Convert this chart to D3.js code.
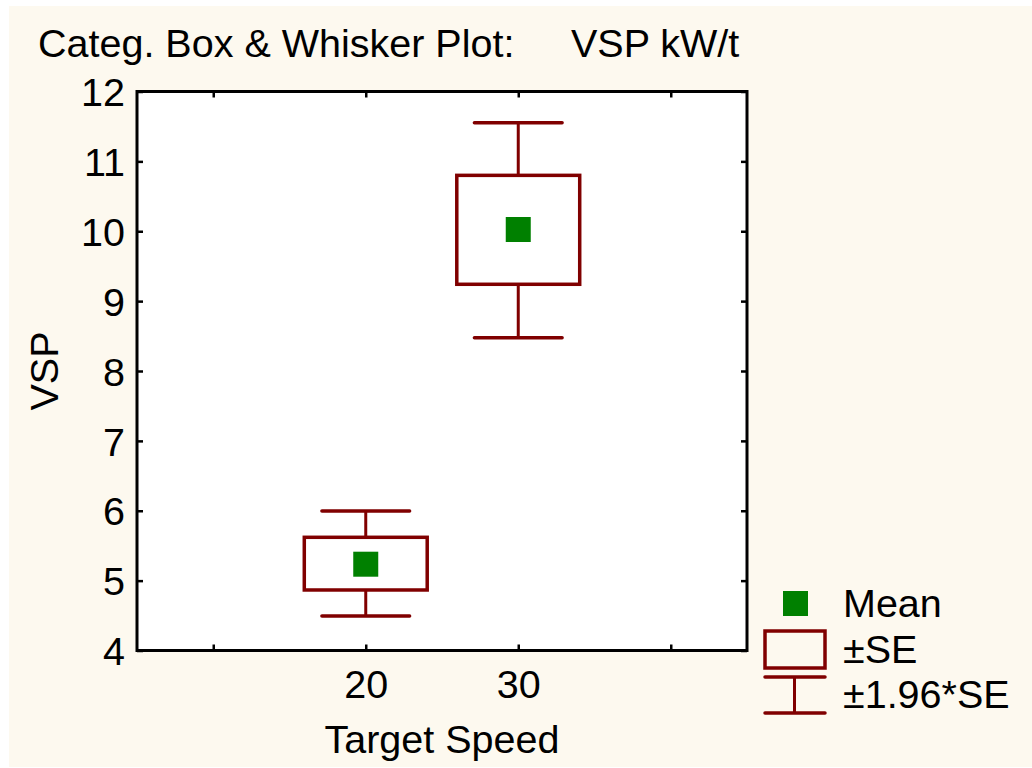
<!DOCTYPE html>
<html><head><meta charset="utf-8">
<script src="https://cdn.jsdelivr.net/npm/d3@7"></script>
<style>
html,body{margin:0;padding:0;background:#ffffff;}
svg{display:block;}
text{font-family:"Liberation Sans",Arial,sans-serif;fill:#000;}
</style></head>
<body>
<svg id="chart" width="1032" height="768"></svg>
<script>
// ---- data ----
const categories = ["20", "30"];
const means   = [5.235, 10.025];
const seLow   = [4.866, 9.241];
const seHigh  = [5.620, 10.800];
const ciLow   = [4.494, 8.477];
const ciHigh  = [5.996, 11.553];
const yTicks  = [4, 5, 6, 7, 8, 9, 10, 11, 12];
const legendLabels = ["Mean", "\u00B1SE", "\u00B11.96*SE"];
const titleLeft = "Categ. Box & Whisker Plot:";
const titleRight = "VSP kW/t";
const xTitle = "Target Speed";
const yTitle = "VSP";

// ---- layout ----
const FS = "39.5px";
const svg = d3.select("#chart");
const L = 137, R = 747, T = 91.5, B = 650.5;
const boxColor = "#800000", meanColor = "#008000", bg = "#FDF9EF";

svg.append("rect").attr("x", 9).attr("y", 6).attr("width", 1023).attr("height", 761).attr("fill", bg);
svg.append("rect").attr("x", L).attr("y", T).attr("width", R - L).attr("height", B - T).attr("fill", "#fff");

const y = d3.scaleLinear().domain([4, 12]).range([B, T]);
const x = d3.scaleLinear().domain([0, 4]).range([L, R]);
const slotTicks = [0.5, 1.5, 2.5, 3.5];
const catPos = (i) => x(i + 1.5);
const bandW = x(1) - x(0);

// axes with inward ticks
const tickLen = 6;
const yAxisL = d3.axisLeft(y).tickValues(yTicks).tickSize(-tickLen).tickPadding(18).tickFormat(d3.format("d"));
const gL = svg.append("g").attr("transform", `translate(${L},0)`).call(yAxisL);
const yAxisR = d3.axisRight(y).tickValues(yTicks).tickSize(-tickLen).tickFormat("");
const gR = svg.append("g").attr("transform", `translate(${R},0)`).call(yAxisR);
const xAxisB = d3.axisBottom(x).tickValues(slotTicks).tickSize(-tickLen).tickPadding(22)
  .tickFormat(d => { const i = Math.round(d - 1.5); return categories[i] !== undefined ? categories[i] : ""; });
const gB = svg.append("g").attr("transform", `translate(0,${B})`).call(xAxisB);
const xAxisT = d3.axisTop(x).tickValues(slotTicks).tickSize(-tickLen).tickFormat("");
const gT = svg.append("g").attr("transform", `translate(0,${T})`).call(xAxisT);

[gL, gR, gB, gT].forEach(g => {
  g.select(".domain").remove();
  g.selectAll(".tick line").attr("stroke", "#000").attr("stroke-width", 2.5);
  g.selectAll(".tick text").style("font-size", FS).attr("fill", "#000")
    .style("font-family", '"Liberation Sans",Arial,sans-serif');
});
gL.selectAll(".tick text").attr("x", -12).attr("dy", "0.36em");
gB.selectAll(".tick text").attr("dy", "0.71em").attr("y", 19);

// frame
svg.append("rect").attr("x", L).attr("y", T).attr("width", R - L).attr("height", B - T)
  .attr("fill", "none").attr("stroke", "#000").attr("stroke-width", 3);

// boxes
const g = svg.append("g");
categories.forEach((c, i) => {
  const cx = catPos(i);
  const bw = bandW * 0.806, cw = bandW * 0.575;
  g.append("line").attr("x1", cx).attr("x2", cx).attr("y1", y(ciHigh[i])).attr("y2", y(seHigh[i]))
    .attr("stroke", boxColor).attr("stroke-width", 3);
  g.append("line").attr("x1", cx).attr("x2", cx).attr("y1", y(seLow[i])).attr("y2", y(ciLow[i]))
    .attr("stroke", boxColor).attr("stroke-width", 3);
  g.append("line").attr("x1", cx - cw / 2).attr("x2", cx + cw / 2).attr("y1", y(ciHigh[i])).attr("y2", y(ciHigh[i]))
    .attr("stroke", boxColor).attr("stroke-width", 3.5).attr("stroke-linecap", "round");
  g.append("line").attr("x1", cx - cw / 2).attr("x2", cx + cw / 2).attr("y1", y(ciLow[i])).attr("y2", y(ciLow[i]))
    .attr("stroke", boxColor).attr("stroke-width", 3.5).attr("stroke-linecap", "round");
  g.append("rect").attr("x", cx - bw / 2).attr("y", y(seHigh[i])).attr("width", bw)
    .attr("height", y(seLow[i]) - y(seHigh[i])).attr("fill", "none")
    .attr("stroke", boxColor).attr("stroke-width", 3.5);
  g.append("rect").attr("x", cx - 12.5).attr("y", y(means[i]) - 12.5).attr("width", 25).attr("height", 25)
    .attr("fill", meanColor);
});

// titles
svg.append("text").attr("x", 38).attr("y", 57).style("font-size", FS).text(titleLeft);
svg.append("text").attr("x", 571).attr("y", 57).style("font-size", FS).text(titleRight);
svg.append("text").attr("x", (L + R) / 2).attr("y", 753).attr("text-anchor", "middle").style("font-size", FS).text(xTitle);
svg.append("text").attr("transform", `translate(58,${(T + B) / 2}) rotate(-90)`).attr("text-anchor", "middle")
  .style("font-size", FS).text(yTitle);

// legend
const lg = svg.append("g");
lg.append("rect").attr("x", 783).attr("y", 591).attr("width", 25).attr("height", 25).attr("fill", meanColor);
lg.append("rect").attr("x", 765).attr("y", 631).attr("width", 60).attr("height", 37)
  .attr("fill", "none").attr("stroke", boxColor).attr("stroke-width", 3.5);
lg.append("line").attr("x1", 765).attr("x2", 825).attr("y1", 677).attr("y2", 677).attr("stroke", boxColor).attr("stroke-width", 3.5).attr("stroke-linecap", "round");
lg.append("line").attr("x1", 765).attr("x2", 825).attr("y1", 713).attr("y2", 713).attr("stroke", boxColor).attr("stroke-width", 3.5).attr("stroke-linecap", "round");
lg.append("line").attr("x1", 794.5).attr("x2", 794.5).attr("y1", 677).attr("y2", 713).attr("stroke", boxColor).attr("stroke-width", 3);
const ly = [617, 663, 708];
legendLabels.forEach((t, i) => {
  lg.append("text").attr("x", 843).attr("y", ly[i]).style("font-size", FS).text(t);
});
</script>
</body></html>
